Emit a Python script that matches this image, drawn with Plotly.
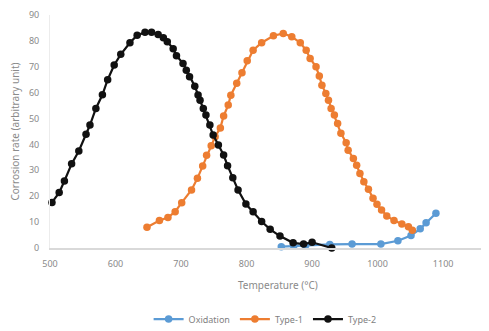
import plotly.graph_objects as go

ox_T = [853, 872, 890, 927, 961, 1005, 1031, 1051, 1065, 1074, 1089]
ox_v = [0.5, 0.8, 1.0, 1.4, 1.5, 1.5, 2.8, 4.8, 7.4, 9.8, 13.4]

t1_T = [648, 667, 680, 691, 701, 716, 725, 733, 739, 746, 752, 760, 765, 772, 776, 785, 793,
        801, 810, 823, 841, 856, 869, 882, 891, 897, 906, 911, 915, 921, 925, 929, 934, 939,
        944, 952, 955, 963, 968, 973, 979, 986, 993, 999, 1006, 1014, 1025, 1037, 1047, 1053]
t1_v = [8.0, 10.6, 11.8, 14.0, 17.5, 22.4, 26.9, 31.7, 35.8, 39.5, 43.0, 46.4, 51.0, 55.2, 59.0,
        63.6, 67.7, 72.3, 76.4, 79.3, 82.0, 82.9, 81.6, 79.3, 76.4, 73.2, 70.0, 66.4, 62.9, 59.7,
        57.1, 53.9, 51.4, 48.1, 44.3, 40.7, 37.8, 34.6, 32.0, 28.8, 25.6, 22.7, 19.2, 16.9, 14.7,
        12.4, 10.6, 9.3, 8.2, 6.9]

t2_T = [503, 514, 522, 533, 544, 555, 561, 570, 580, 588, 598, 608, 622, 633, 645, 655, 665,
        673, 679, 688, 693, 703, 708, 713, 721, 726, 729, 734, 738, 744, 749, 757, 765, 771,
        779, 787, 799, 810, 823, 836, 851, 871, 887, 900, 930]
t2_v = [17.6, 21.4, 25.9, 32.5, 37.5, 43.9, 47.5, 53.9, 59.2, 65.0, 70.7, 74.8, 79.3, 82.2,
        83.3, 83.3, 82.5, 81.2, 79.7, 77.0, 74.3, 71.3, 68.7, 66.1, 62.5, 59.1, 57.1, 53.9, 51.4,
        47.5, 43.6, 39.8, 35.9, 31.8, 27.1, 22.4, 17.0, 14.0, 10.2, 7.2, 4.6, 2.0, 1.5, 2.2, 0.0]

x_ticks = [500, 600, 700, 800, 900, 1000, 1100]
y_ticks = [0, 10, 20, 30, 40, 50, 60, 70, 80, 90]

fig = go.Figure()
series = [("Oxidation", ox_T, ox_v, "#5B9BD5"),
          ("Type-1", t1_T, t1_v, "#ED7D31"),
          ("Type-2", t2_T, t2_v, "#111111")]
for name, xs, ys, col in series:
    fig.add_trace(go.Scatter(x=xs, y=ys, name=name, mode="lines+markers",
                             line=dict(color=col, width=2.2),
                             marker=dict(color=col, size=7.5), cliponaxis=False))

tick_font = dict(family="Noto Sans", size=9, color="#8a8a8a")
# the page body adds an 8px offset, so the figure is sized 8px smaller
fig.update_layout(
    width=481, height=323,
    margin=dict(l=42, r=0, t=7, b=83, autoexpand=False),
    paper_bgcolor="white", plot_bgcolor="white",
    font=dict(family="Noto Sans", color="#7f7f7f"),
    showlegend=True,
    legend=dict(orientation="h", x=0.49, xanchor="center", y=-0.305, yanchor="middle",
                font=dict(size=9, color="#7f7f7f"), itemwidth=30, tracegroupgap=0),
    xaxis=dict(range=[500, 1170], tickvals=x_ticks, ticktext=[str(v) for v in x_ticks],
               showgrid=False, zeroline=False, showline=True, linecolor="#d9d9d9", linewidth=1.5,
               tickfont=tick_font, ticks="", ticklabelstandoff=6, automargin=False),
    yaxis=dict(range=[0, 90], tickvals=y_ticks, showgrid=False, zeroline=False,
               showline=True, linecolor="#ececec", linewidth=1,
               tickfont=tick_font, ticks="", ticklabelstandoff=8, automargin=False,
               title=dict(text="Corrosion rate (arbitrary unit)",
                          font=dict(size=10, color="#8a8a8a"), standoff=10)),
    annotations=[dict(text="Temperature (°C)", x=0.519, y=-0.159, xref="paper", yref="paper",
                      xanchor="center", yanchor="middle", showarrow=False,
                      font=dict(size=10, color="#8a8a8a"))],
)
fig.write_html("out.html")
